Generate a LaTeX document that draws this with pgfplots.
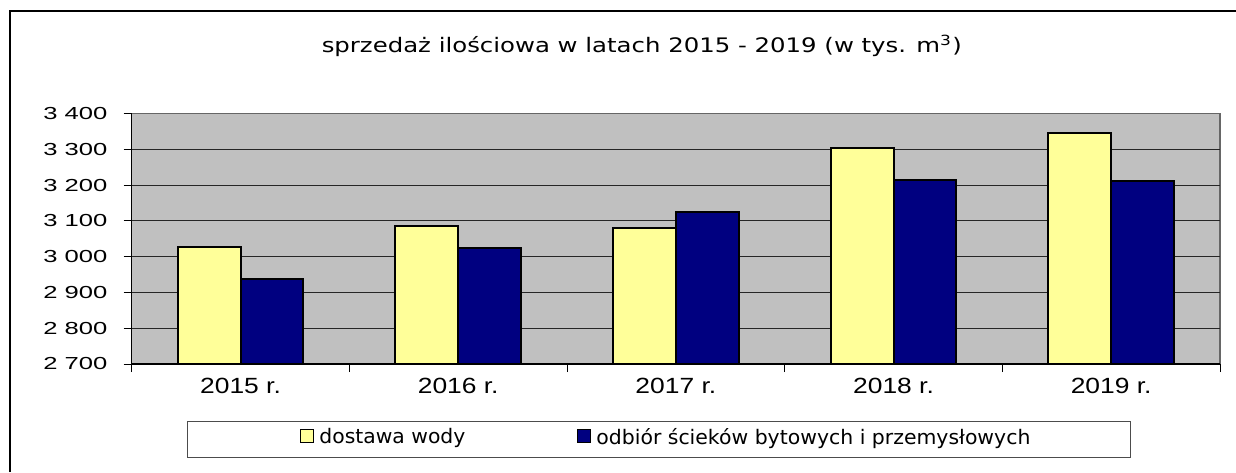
\documentclass[border=0pt]{standalone}
\usepackage{fontspec}
\setmainfont{DejaVu Sans}
\newfontfamily\arialfont{Liberation Sans}
\usepackage{graphicx}
\usepackage{pgfplots}
\pgfplotsset{compat=1.18}
\definecolor{cyel}{RGB}{255,255,153}
\definecolor{cnavy}{RGB}{0,0,128}
\definecolor{cbg}{RGB}{192,192,192}
\newcommand\ylab[1]{\scalebox{1.47}[1]{#1}}
\newcommand\xlab[1]{\scalebox{1.2}[1]{#1}}
\begin{document}
\begin{tikzpicture}
\useasboundingbox (0,0) rectangle (618pt,236pt);
\draw[line width=1pt] (5pt,0) -- (5pt,230.25pt) -- (618pt,230.25pt);
\begin{axis}[
  at={(65.85pt,54pt)}, anchor=south west,
  scale only axis, width=544.15pt, height=125.15pt,
  xmin=-0.5, xmax=4.5, ymin=2700, ymax=3400,
  axis lines=left, axis line style={-, line width=0.75pt, black},
  axis background/.style={fill=cbg, draw=gray!80!black, line width=0.75pt},
  ybar=0pt, bar width=31.35pt,
  ytick={2700,2800,2900,3000,3100,3200,3300},
  yticklabels={\ylab{2 700},\ylab{2 800},\ylab{2 900},\ylab{3 000},\ylab{3 100},\ylab{3 200},\ylab{3 300}},
  extra y ticks={3400}, extra y tick labels={\ylab{3 400}}, extra y tick style={grid=none},
  ymajorgrids, grid style={black!85, line width=0.5pt},
  xtick={-0.5,0.5,1.5,2.5,3.5,4.5}, xticklabels={},
  extra x ticks={0,1,2,3,4},
  extra x tick labels={\xlab{2015 r.},\xlab{2016 r.},\xlab{2017 r.},\xlab{2018 r.},\xlab{2019 r.}},
  extra x tick style={major tick length=0pt, grid=none},
  tick align=outside, major tick length=4pt, tick style={black, line width=0.5pt},
  yticklabel style={font=\arialfont\fontsize{8.7}{10}\selectfont, anchor=east, inner sep=0pt, xshift=-8pt},
  xticklabel style={font=\arialfont\fontsize{11}{13}\selectfont, anchor=north, inner sep=0pt, yshift=-7pt},
  legend columns=2,
  legend style={at={(axis description cs:0.15464,-0.29365)}, anchor=west, draw=none, fill=none,
    inner sep=0pt, nodes={inner sep=0pt}, font=\fontsize{10}{12}\selectfont,
    /tikz/every odd column/.append style={column sep=2.5pt},
    /tikz/every even column/.append style={column sep=56pt}},
  legend image code/.code={\draw[#1, line width=0.5pt] (0pt,-2.4pt) rectangle (6.5pt,4.1pt);},
]
\addplot[fill=cyel, draw=black, line width=1pt] coordinates {(0,3027) (1,3086) (2,3080) (3,3305) (4,3345)};
\addplot[fill=cnavy, draw=black, line width=1pt] coordinates {(0,2937) (1,3024) (2,3125) (3,3215) (4,3212)};
\addlegendentry{\resizebox{73pt}{\height}{dostawa wody}}
\addlegendentry{\resizebox{217pt}{\height}{odbiór ścieków bytowych i przemysłowych}}
\end{axis}
\draw[gray!60!black, line width=0.5pt] (93.5pt,7.5pt) rectangle (565pt,25.5pt);
\node[anchor=base, inner sep=0pt, font=\fontsize{10}{12}\selectfont] at (320.9pt,209.75pt)
  {\resizebox{320pt}{\height}{sprzedaż ilościowa w latach 2015 - 2019 (w tys. m\textsuperscript{3})}};
\end{tikzpicture}
\end{document}
